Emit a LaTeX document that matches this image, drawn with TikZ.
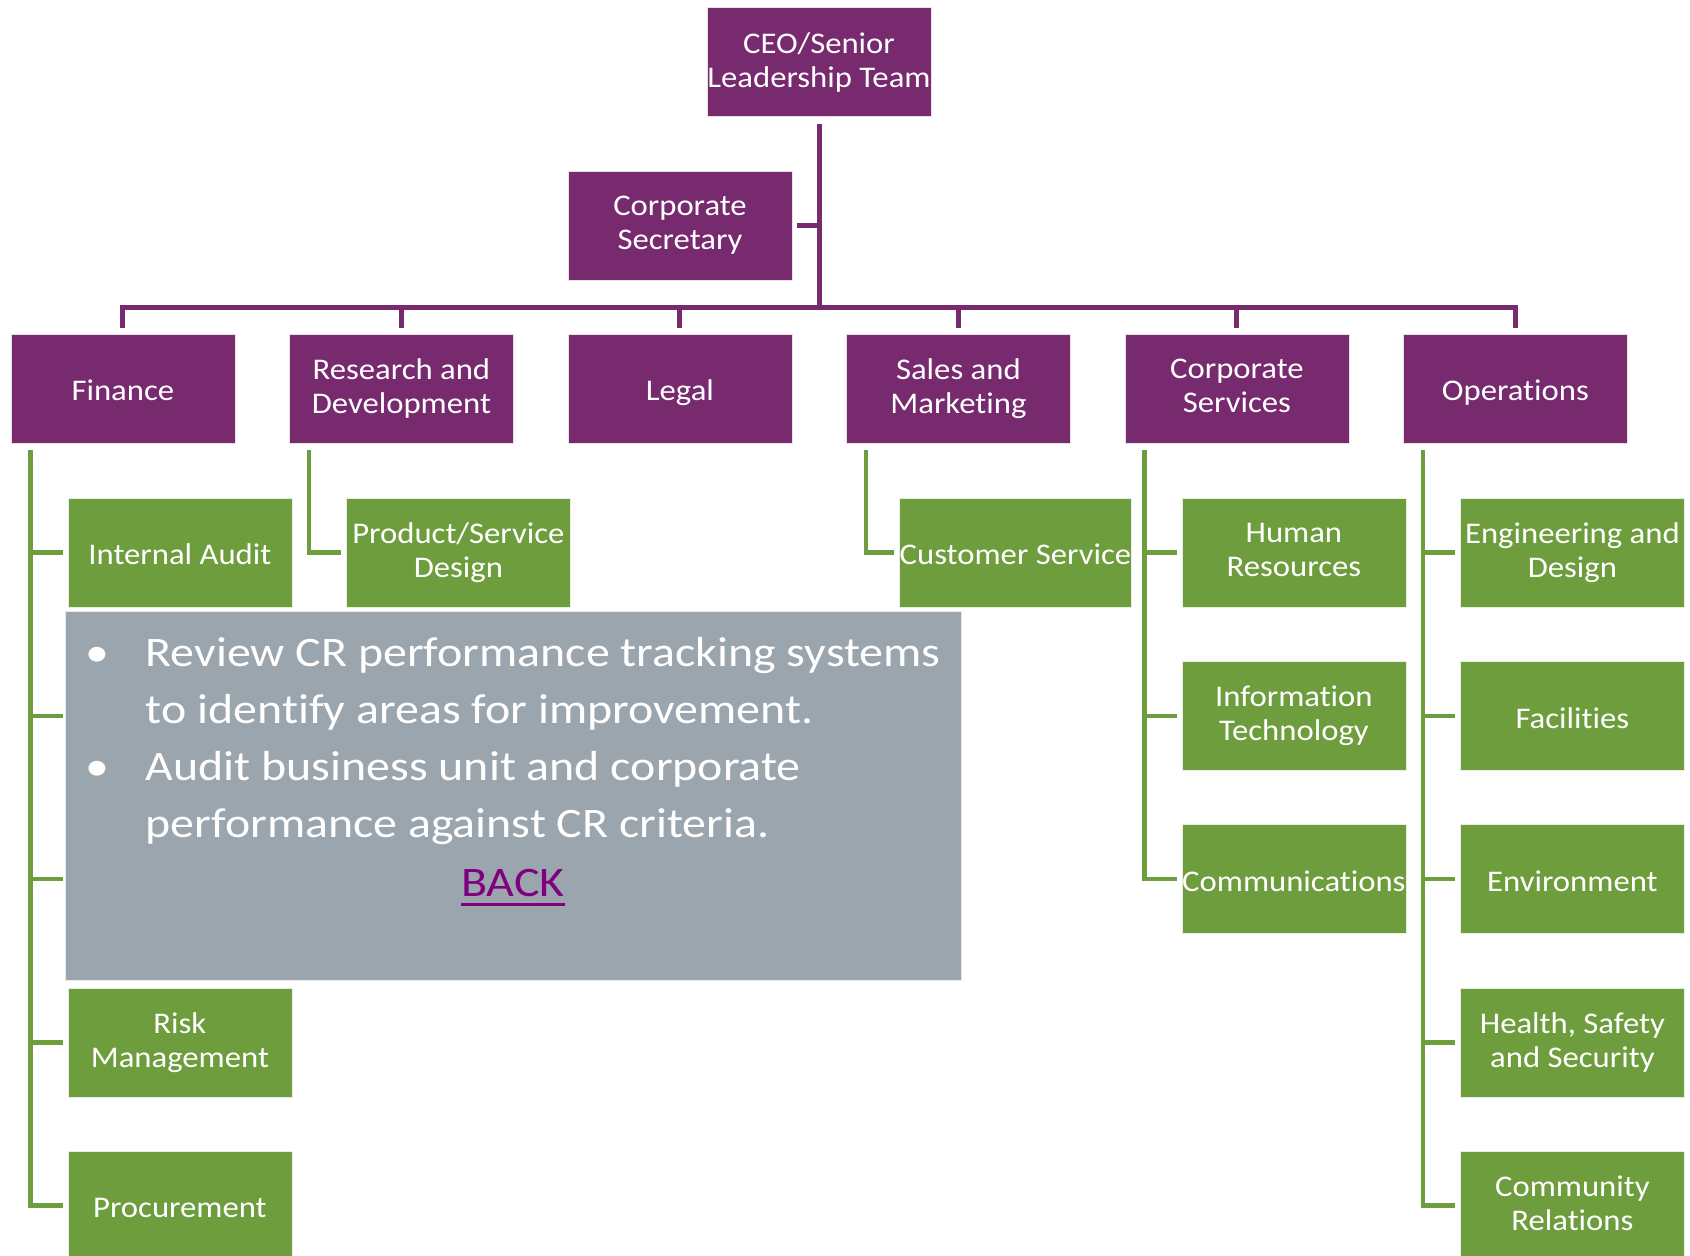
\documentclass[tikz,border=0pt]{standalone}
\usepackage{fontspec}
\setmainfont{Carlito}
\newfontfamily\boxfont{Carlito}[FakeStretch=1.09, Ligatures=NoCommon]
\newfontfamily\notefont{Carlito}[FakeStretch=1.14, Ligatures=NoCommon]
\newcommand\bstrut{\rule[-4.7pt]{0pt}{34pt}}
\definecolor{purp}{HTML}{772A6E}
\definecolor{grn}{HTML}{6E9D3E}
\definecolor{graybox}{HTML}{9AA5AD}
\definecolor{backcol}{HTML}{800080}
\begin{document}
\begin{tikzpicture}[x=1pt,y=-1pt,
  pbox/.style={fill=purp, draw=white!85!purp, line width=0.8pt, minimum width=224pt, minimum height=109pt, inner sep=0pt, text=white, align=center, font=\boxfont\fontsize{30}{34}\selectfont, execute at begin node=\bstrut, execute at end node=\bstrut},
  gbox/.style={pbox, fill=grn, draw=white!85!grn},
  pline/.style={draw=purp, line width=5pt, line join=miter},
  gline/.style={draw=grn, line width=4.5pt, line join=miter},
  notetxt/.style={text=white, inner sep=0pt, font=\notefont\fontsize{42}{57}\selectfont, anchor=base west},
]
\useasboundingbox (0,0) rectangle (1690,1256);
\fill[white] (0,0) rectangle (1690,1256);

% level 1
\node[pbox] (ceo) at (819,62) {CEO/Senior\\Leadership Team};
\node[pbox] (sec) at (680,225.5) {Corporate\\Secretary};
% level 2
\node[pbox] (fin) at (122.9,388.5) {Finance};
\node[pbox] (rd) at (401.4,388.5) {Research and\\Development};
\node[pbox] (legal) at (679.9,388.5) {Legal};
\node[pbox] (sales) at (958.4,388.5) {Sales and\\Marketing};
\node[pbox] (cs) at (1236.9,388.5) {Corporate\\Services};
\node[pbox] (ops) at (1515.4,388.5) {Operations};
% level 3
\node[gbox] (ia) at (179.9,552.5) {Internal Audit};
\node[gbox] (risk) at (179.9,1042.5) {Risk\\Management};
\node[gbox] (proc) at (179.9,1205.5) {Procurement};
\node[gbox] (psd) at (458.4,552.5) {Product/Service\\Design};
\node[gbox] (cust) at (1015.4,552.5) {Customer Service};
\node[gbox] (hr) at (1293.9,552.5) {Human\\Resources};
\node[gbox] (it) at (1293.9,716) {Information\\Technology};
\node[gbox] (comm) at (1293.9,879) {Communications};
\node[gbox] (eng) at (1572.4,552.5) {Engineering and\\Design};
\node[gbox] (fac) at (1572.4,716) {Facilities};
\node[gbox] (env) at (1572.4,879) {Environment};
\node[gbox] (hss) at (1572.4,1042.5) {Health, Safety\\and Security};
\node[gbox] (cr) at (1572.4,1205.5) {Community\\Relations};

% purple connectors
\coordinate (bar) at (819,307);
\draw[pline, shorten <=7pt] (ceo.south) -- (ceo.south |- bar);
\draw[pline, shorten <=5pt] (sec.east) -- (sec.east -| ceo.south);
\draw[pline, shorten <=6pt, shorten >=6pt] (fin.north) -- (fin.north |- bar) -- (ops.north |- bar) -- (ops.north);
\foreach \n in {rd,legal,sales,cs}
  \draw[pline, shorten >=6pt] (\n.north |- bar) -- (\n.north);

% green connectors
\coordinate (fx) at ([xshift=20pt]fin.south west);
\draw[gline, shorten <=7pt] (fx) -- (fx |- proc.west) -- ([xshift=-5pt]proc.west);
\foreach \t in {ia,it,comm,risk}
  \draw[gline] (fx |- \t.west) -- ([xshift=-5pt]ia.west |- \t.west);

\coordinate (rx) at ([xshift=20pt]rd.south west);
\draw[gline, shorten <=7pt] (rx) -- (rx |- psd.west) -- ([xshift=-5pt]psd.west);

\coordinate (sx) at ([xshift=20pt]sales.south west);
\draw[gline, shorten <=7pt] (sx) -- (sx |- cust.west) -- ([xshift=-5pt]cust.west);

\coordinate (cx) at ([xshift=20pt]cs.south west);
\draw[gline, shorten <=7pt] (cx) -- (cx |- comm.west) -- ([xshift=-5pt]comm.west);
\foreach \t in {hr,it}
  \draw[gline] (cx |- \t.west) -- ([xshift=-5pt]\t.west);

\coordinate (ox) at ([xshift=20pt]ops.south west);
\draw[gline, shorten <=7pt] (ox) -- (ox |- cr.west) -- ([xshift=-5pt]cr.west);
\foreach \t in {eng,fac,env,hss}
  \draw[gline] (ox |- \t.west) -- ([xshift=-5pt]\t.west);

% note box
\node[fill=graybox, draw=white!75!graybox, line width=0.8pt, minimum width=896pt, minimum height=369pt, inner sep=0pt, anchor=north west] (note) at (65,611) {};
\node[notetxt] (bul1) at (85,666) {•};
\node[notetxt] (l1) at (145.6,666) {Review CR performance tracking systems};
\node[notetxt] (l2) at (145.6,723) {to identify areas for improvement.};
\node[notetxt] (bul2) at (85,780) {•};
\node[notetxt] (l3) at (145.6,780) {Audit business unit and corporate};
\node[notetxt] (l4) at (145.6,837) {performance against CR criteria.};
\node[notetxt, anchor=base, text=backcol] (back) at (513,896) {BACK};
\draw[backcol, line width=3pt] ([yshift=-8pt]back.base west) -- ([yshift=-8pt]back.base east);
\end{tikzpicture}
\end{document}
